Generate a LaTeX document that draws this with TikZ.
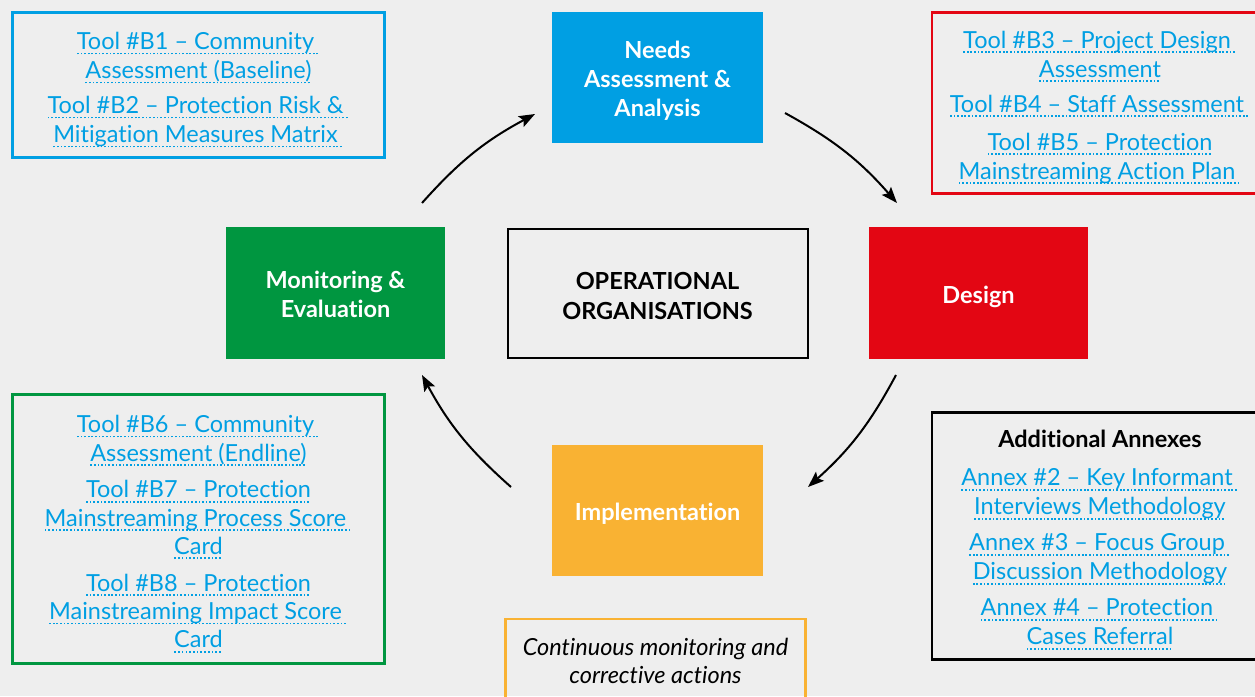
\documentclass[tikz,border=0pt]{standalone}
\usepackage{fontspec}
\setmainfont{Lato}[Ligatures={NoCommon}]
\usetikzlibrary{arrows.meta}
\definecolor{bg}{HTML}{EEEEEE}
\definecolor{cblue}{HTML}{009FE3}
\definecolor{cred}{HTML}{E30613}
\definecolor{cgreen}{HTML}{009640}
\definecolor{corange}{HTML}{F9B233}
\definecolor{linkblue}{HTML}{009FE3}
\newcommand\lk[1]{\setbox0\hbox{#1}\leavevmode\rlap{\lower4.6pt\hbox to\wd0{\xleaders\hbox{\rule{1.7pt}{1.7pt}\kern1.9pt}\hfill}}\box0}
\tikzset{
  phase/.style={fill=#1, minimum width=211pt, minimum height=131pt, inner sep=0pt},
  phasetext/.style={text=white, font=\bfseries\fontsize{23.5}{29}\selectfont, align=center, inner sep=0pt},
  toolbox/.style={draw=#1, line width=2.4pt, inner sep=0pt},
  tooltext/.style={align=center, inner sep=0pt, font=\fontsize{23.5}{29}\selectfont, text=linkblue},
  cyc/.style={-{Stealth[length=16pt,width=12pt,inset=3pt]}, line width=2pt, bend left=10}
}
\begin{document}
\begin{tikzpicture}[x=1pt,y=-1pt]
\useasboundingbox[fill=bg] (0,0) rectangle (1255,696);
% phase boxes
\node[phase=cblue] (needs) at (657.5,77.5) {};
\node[phasetext] (needs-t) at ([yshift=-3.5pt]needs.center) {Needs\\Assessment \&\\Analysis};
\node[phase=cgreen, minimum width=219pt, minimum height=132pt] (mon) at (335.5,293) {};
\node[phasetext] (mon-t) at ([yshift=-1.5pt]mon.center) {Monitoring \&\\Evaluation};
\node[phase=corange] (impl) at (657.5,510) {};
\node[phasetext] (impl-t) at ([yshift=-4pt]impl.center) {Implementation};
\node[phase=cred, minimum width=219pt, minimum height=132pt] (design) at (978.5,293) {};
\node[phasetext] (design-t) at ([yshift=-4pt]design.center) {Design};
% centre
\node[draw=black, line width=2pt, minimum width=300pt, minimum height=129pt] (ops) at (657.5,293) {};
\node[phasetext, text=black] (ops-t) at ([yshift=-3pt]ops.center) {OPERATIONAL\\ORGANISATIONS};
% tool boxes
\node[toolbox=cblue, minimum width=372pt, minimum height=145pt] (tb1) at (198.5,85) {};
\node[tooltext] (tb1-t) at ([yshift=-5pt]tb1.center)
  {\lk{Tool \#B1 – Community\ }\\ \lk{Assessment (Baseline)}\\[6pt]
   \lk{Tool \#B2 – Protection Risk \&\ }\\ \lk{Mitigation Measures Matrix\ }};
\node[toolbox=cred, minimum width=336pt, minimum height=181pt] (tb3) at (1100,103) {};
\node[tooltext] (tb3-t) at ([yshift=-4.5pt]tb3.center)
  {\lk{Tool \#B3 – Project Design\ }\\ \lk{Assessment}\\[6pt]
   \lk{Tool \#B4 – Staff Assessment\ }\\[9pt]
   \lk{Tool \#B5 – Protection}\\ \lk{Mainstreaming Action Plan\ }};
\node[toolbox=cgreen, minimum width=372pt, minimum height=269pt] (tb6) at (198.5,529) {};
\node[tooltext, font=\fontsize{23.5}{28.3}\selectfont] (tb6-t) at ([yshift=-5pt]tb6.center)
  {\lk{Tool \#B6 – Community\ }\\ \lk{Assessment (Endline)}\\[8.5pt]
   \lk{Tool \#B7 – Protection}\\ \lk{Mainstreaming Process Score\ }\\ \lk{Card}\\[8.5pt]
   \lk{Tool \#B8 – Protection}\\ \lk{Mainstreaming Impact Score\ }\\ \lk{Card}};
\node[toolbox=black, minimum width=336pt, minimum height=247pt] (annex) at (1100,536) {};
\node[tooltext] (annex-t) at ([yshift=-4pt]annex.center)
  {{\color{black}\bfseries Additional Annexes}\\[9pt]
   \lk{Annex \#2 – Key Informant\ }\\ \lk{Interviews Methodology}\\[7pt]
   \lk{Annex \#3 – Focus Group\ }\\ \lk{Discussion Methodology}\\[7pt]
   \lk{Annex \#4 – Protection\ }\\ \lk{Cases Referral}};
\node[draw=corange, line width=2.4pt, minimum width=300pt, minimum height=84pt, align=center,
  font=\itshape\fontsize{23.5}{28}\selectfont] (cont) at (655.5,661)
  {Continuous monitoring and\\corrective actions};
% cycle arrows
\coordinate (a1s) at (422,203); \coordinate (a1e) at (535,114);
\coordinate (a2s) at (785,113); \coordinate (a2e) at (897,203);
\coordinate (a3s) at (896,375); \coordinate (a3e) at (808,487);
\coordinate (a4s) at (511,487); \coordinate (a4e) at (422,375);
\draw[cyc] (a1s) to (a1e);
\draw[cyc] (a2s) to (a2e);
\draw[cyc] (a3s) to (a3e);
\draw[cyc] (a4s) to (a4e);
\end{tikzpicture}
\end{document}
